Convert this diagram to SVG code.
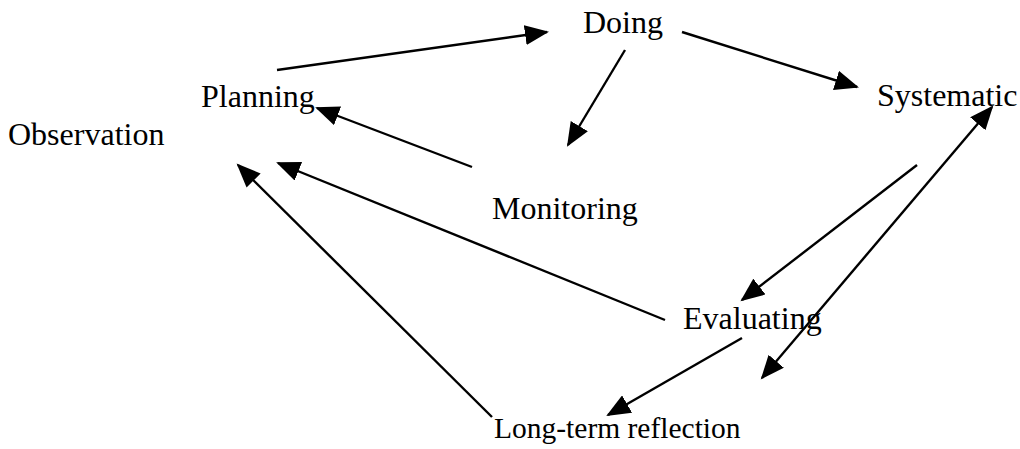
<svg xmlns="http://www.w3.org/2000/svg" width="1020" height="449" viewBox="0 0 1020 449">
<style>
.lbl{font-family:"Liberation Serif","Times New Roman",serif;font-size:32px;fill:#000}
.c{stroke:#000;stroke-width:2.4;fill:none;marker-end:url(#ah)}
</style>
<defs>
<marker id="ah" markerUnits="userSpaceOnUse" markerWidth="26" markerHeight="20" refX="22" refY="10" orient="auto-start-reverse">
<path d="M0,0 L24,10 L0,20 Z" fill="#000"/>
</marker>
</defs>
<rect width="1020" height="449" fill="#fff"/>
<g id="connectors">
<line class="c" x1="277" y1="70" x2="547" y2="32"/>
<line class="c" x1="682" y1="32" x2="857" y2="87"/>
<line class="c" x1="625" y1="50" x2="568" y2="145"/>
<line class="c" x1="472" y1="167" x2="317" y2="108"/>
<line class="c" x1="665" y1="320" x2="278" y2="163"/>
<line class="c" x1="492" y1="417" x2="238" y2="165"/>
<line class="c" x1="917" y1="165" x2="742" y2="300"/>
<line class="c" x1="742" y1="338" x2="608" y2="415"/>
<line class="c" x1="762" y1="378" x2="992" y2="107" style="marker-start:url(#ah)"/>
</g>
<g id="node-observation"><text class="lbl" x="8" y="145">Observation</text></g>
<g id="node-planning"><text class="lbl" x="201" y="107">Planning</text></g>
<g id="node-doing"><text class="lbl" x="583" y="33">Doing</text></g>
<g id="node-systematic"><text class="lbl" x="877" y="106">Systematic</text></g>
<g id="node-monitoring"><text class="lbl" x="492" y="219">Monitoring</text></g>
<g id="node-evaluating"><text class="lbl" x="683" y="329">Evaluating</text></g>
<g id="node-longterm"><text class="lbl" x="494" y="438" style="font-size:29.5px">Long-term reflection</text></g>
</svg>
